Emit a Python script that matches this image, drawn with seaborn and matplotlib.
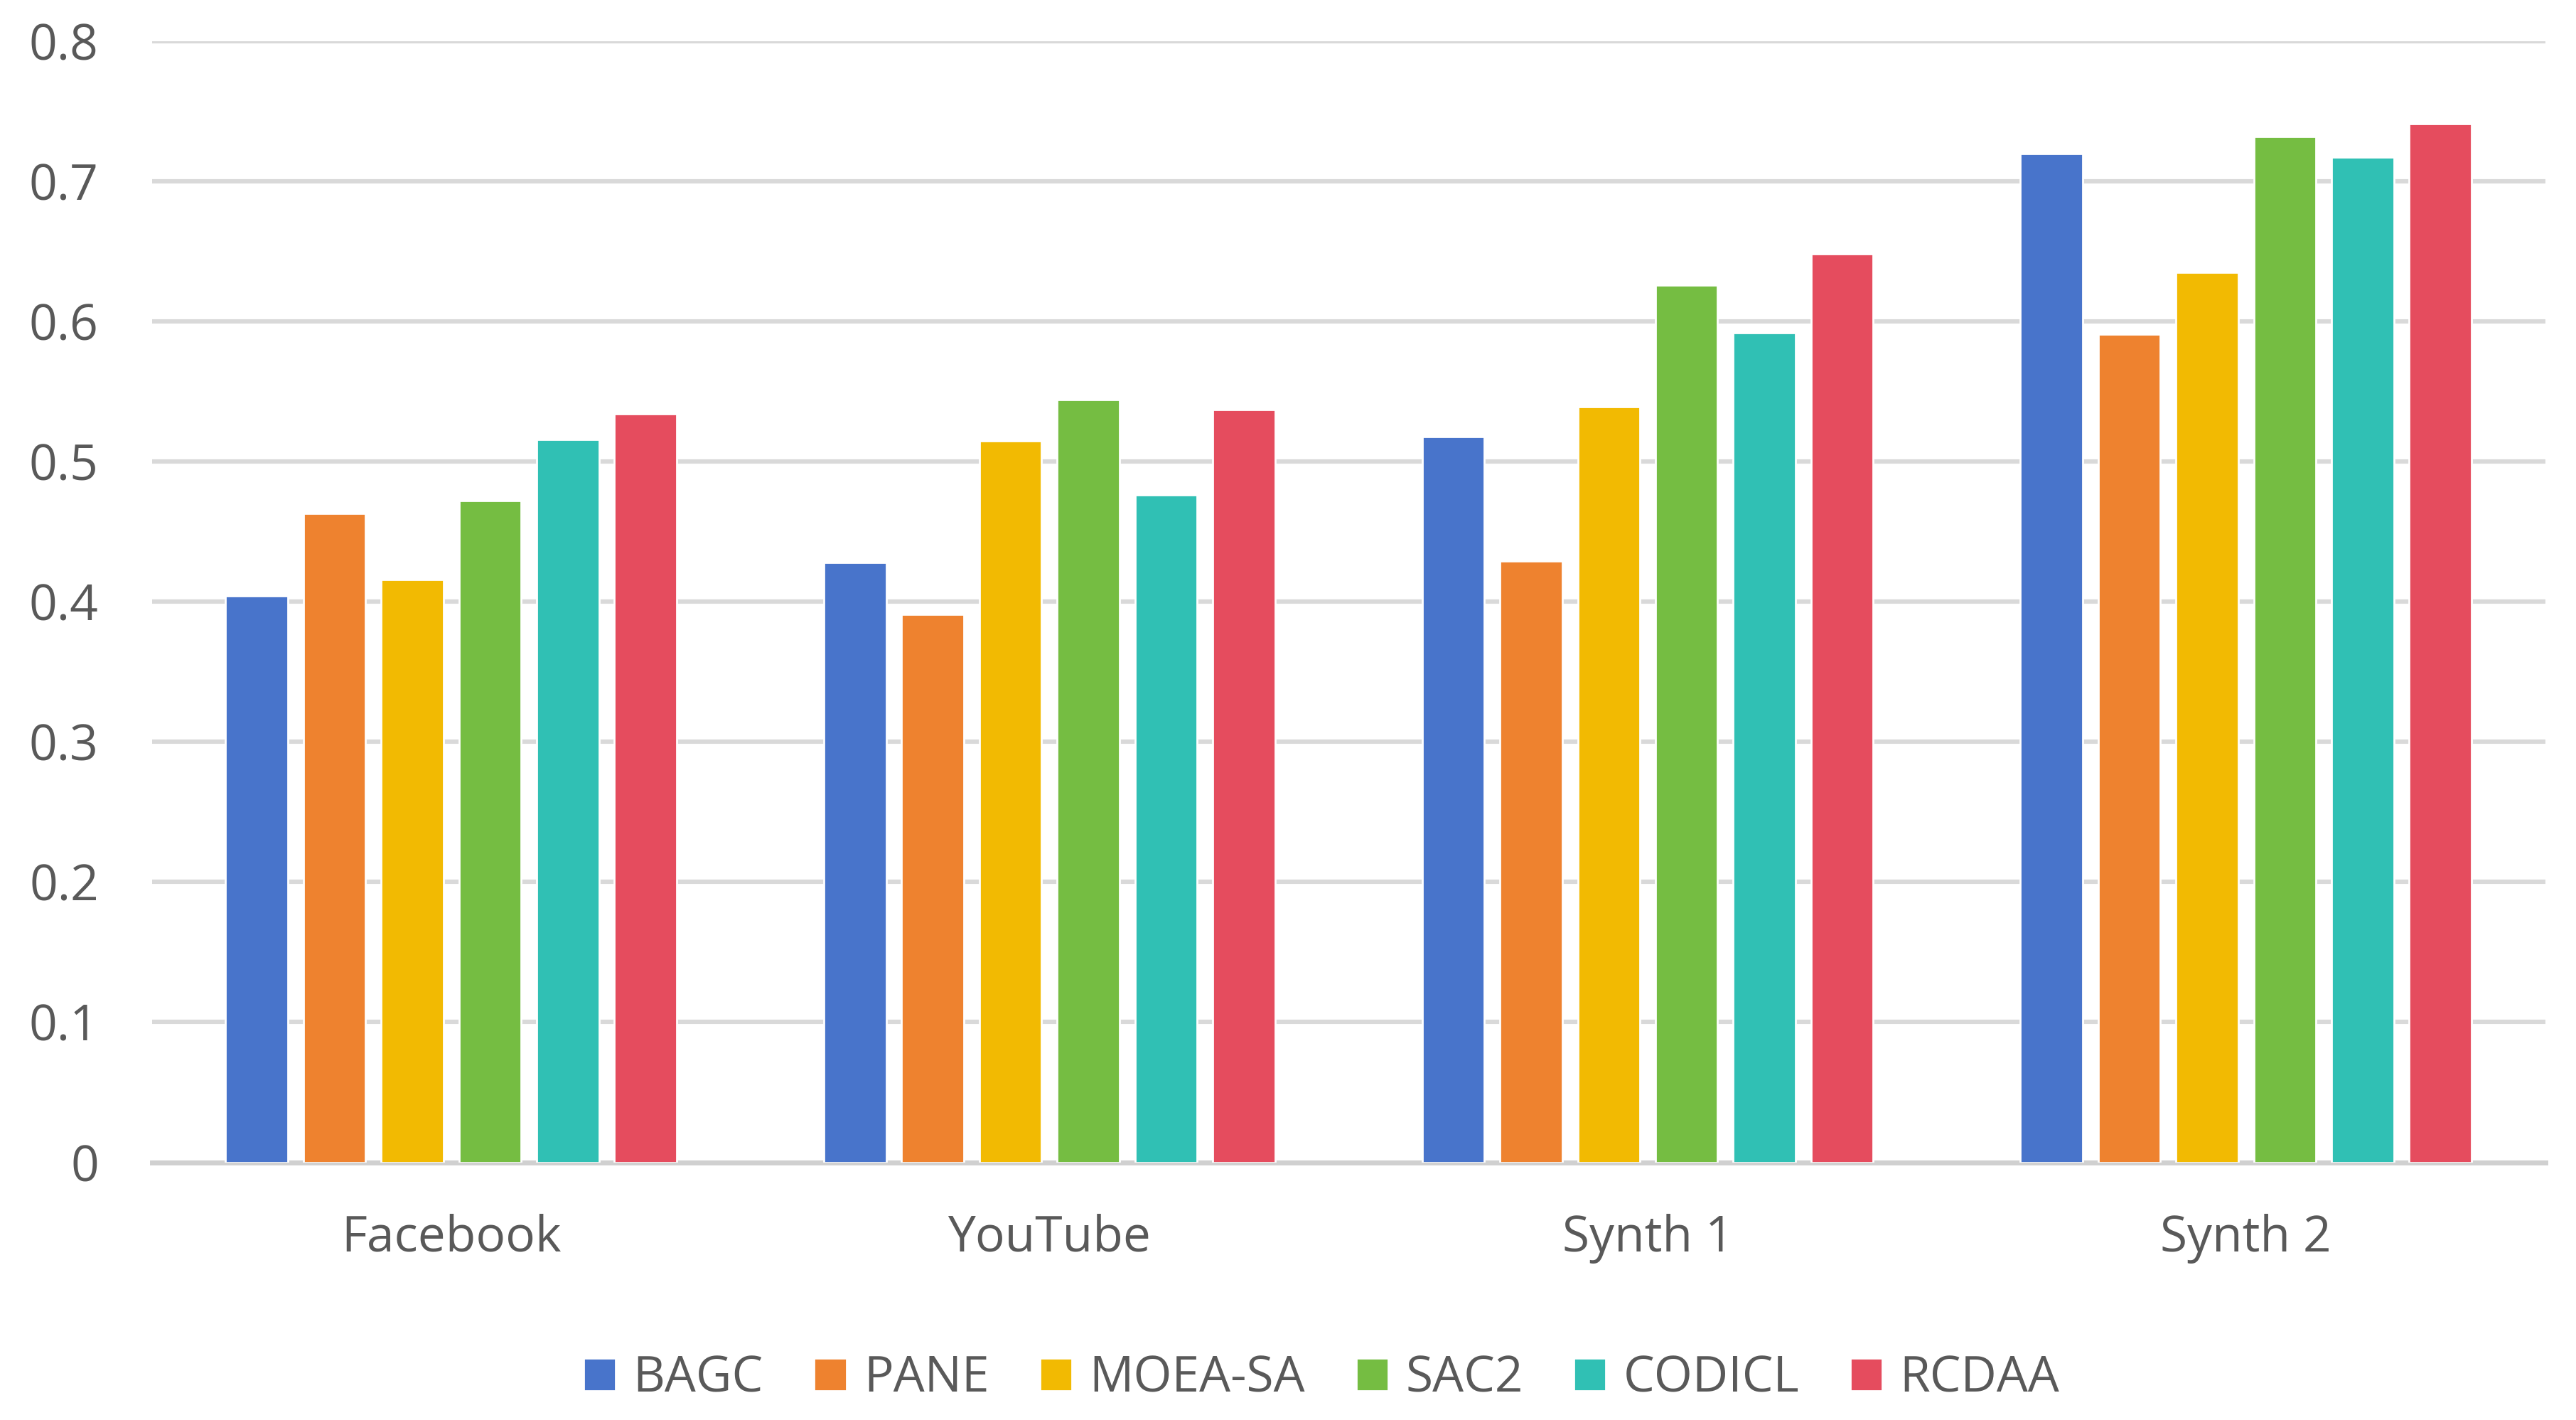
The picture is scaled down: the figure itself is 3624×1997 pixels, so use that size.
import matplotlib
matplotlib.use('Agg')
import matplotlib.pyplot as plt
import pandas as pd
import seaborn as sns

# Data
datasets = ['Facebook', 'YouTube', 'Synth 1', 'Synth 2']
methods = ['BAGC', 'PANE', 'MOEA-SA', 'SAC2', 'CODICL', 'RCDAA']
bagc = [0.404, 0.428, 0.518, 0.720]
pane = [0.463, 0.391, 0.429, 0.591]
moea_sa = [0.416, 0.515, 0.539, 0.635]
sac2 = [0.472, 0.544, 0.626, 0.732]
codicl = [0.516, 0.476, 0.592, 0.717]
rcdaa = [0.534, 0.537, 0.648, 0.741]
colors = ['#4874CB', '#EE822F', '#F2BA02', '#75BD42', '#30C0B4', '#E54C5E']
yticks = [0, 0.1, 0.2, 0.3, 0.4, 0.5, 0.6, 0.7, 0.8]

series = [bagc, pane, moea_sa, sac2, codicl, rcdaa]
rows = []
for m, vals in zip(methods, series):
    for d, v in zip(datasets, vals):
        rows.append({'dataset': d, 'method': m, 'score': v})
df = pd.DataFrame(rows)

sns.set_style('white')
plt.rcParams['font.family'] = ['Open Sans', 'DejaVu Sans']
text_color = '#595959'

fig = plt.figure(figsize=(18.12, 9.985), dpi=200)
ax = fig.add_axes([0.059, 0.1815, 0.929, 0.7895])

sns.barplot(data=df, x='dataset', y='score', hue='method', order=datasets,
            hue_order=methods, palette=colors, saturation=1, width=0.78,
            gap=0.2, errorbar=None, ax=ax, zorder=3)

ax.set_ylim(0, 0.8)
ax.set_xlim(-0.5, 3.5)
ax.set_yticks(yticks)
ax.set_yticklabels(['0' if t == 0 else f'{t:.1f}' for t in yticks])
ax.yaxis.grid(True, color='#d9d9d9', linewidth=2.2, zorder=0)
ax.set_axisbelow(True)
for s in ['top', 'right', 'left']:
    ax.spines[s].set_visible(False)
ax.spines['bottom'].set_color('#d0d0d0')
ax.spines['bottom'].set_linewidth(2.5)
ax.set_xlabel('')
ax.set_ylabel('')
ax.tick_params(axis='y', length=0, pad=27, labelsize=25, labelcolor=text_color)
ax.tick_params(axis='x', length=0, pad=26, labelsize=25, labelcolor=text_color)

handles, labels = ax.get_legend_handles_labels()
ax.legend_.remove()
fig.legend(handles, labels, loc='center', bbox_to_anchor=(0.513, 0.029),
           ncol=6, frameon=False, fontsize=25, labelcolor=text_color,
           handlelength=0.65, handleheight=0.65, handletextpad=0.35,
           columnspacing=1.03)

fig.savefig('out.png', dpi=200)
